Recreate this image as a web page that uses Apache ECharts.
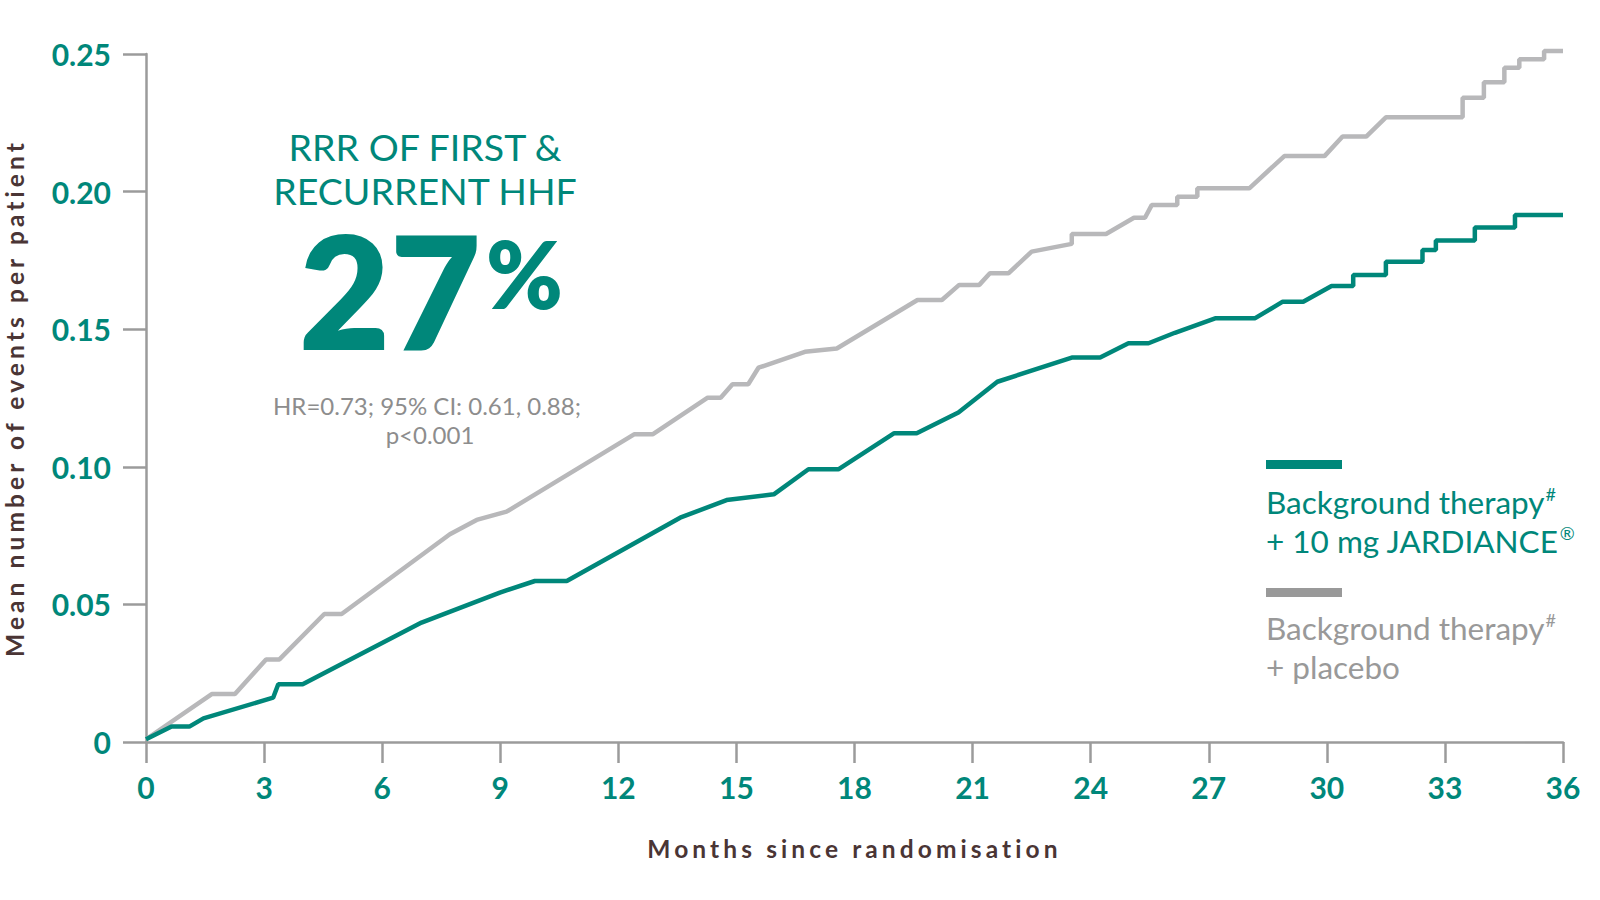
<!DOCTYPE html>
<html>
<head>
<meta charset="utf-8">
<title>Mean number of events per patient</title>
<script src="https://cdn.jsdelivr.net/npm/echarts@6/dist/echarts.min.js"></script>
<style>
  html, body { margin: 0; padding: 0; background: #fff; }
  #chart { width: 1600px; height: 900px; }
  /* the axis titles are tracked out in the original */
  #chart svg text[style*="24.5px"] { letter-spacing: 4.1px; }
</style>
</head>
<body>
<div id="chart"></div>
<script>
/* values */
var jardianceMonths = [0, 0.65, 1.10, 1.46, 3.23, 3.36, 3.98, 7.0, 8.99, 9.88, 10.69, 13.57, 14.75, 15.95, 16.83, 17.59,
    19.01, 19.58, 20.64, 21.63, 23.52, 24.24, 24.96, 25.47, 26.14, 27.18, 28.18, 28.88, 29.40, 30.12, 30.67, 30.67,
    31.50, 31.50, 32.43, 32.43, 32.77, 32.77, 33.76, 33.76, 34.78, 34.78, 36];
var jardianceValues = [0.001, 0.0056, 0.0056, 0.0086, 0.0161, 0.021, 0.021, 0.0434, 0.0543, 0.0585, 0.0585, 0.0815, 0.0879, 0.090, 0.0991, 0.0991,
    0.1122, 0.1122, 0.1197, 0.1309, 0.1397, 0.1397, 0.1449, 0.1449, 0.1487, 0.154, 0.154, 0.160, 0.160, 0.1657, 0.1657, 0.1697,
    0.1697, 0.1745, 0.1745, 0.1788, 0.1788, 0.1822, 0.1822, 0.187, 0.187, 0.1915, 0.1915];

var placeboMonths = [0, 1.67, 2.26, 3.05, 3.39, 4.53, 4.97, 7.72, 8.40, 9.16, 12.40, 12.87, 14.27, 14.60, 14.90, 15.30,
    15.56, 16.74, 17.55, 19.60, 20.22, 20.66, 21.17, 21.44, 21.91, 22.50, 23.52, 23.52, 24.39, 25.10, 25.38, 25.55,
    26.20, 26.20, 26.71, 26.71, 28.03, 28.92, 29.94, 30.40, 31.00, 31.50, 33.45, 33.45, 33.99, 33.99, 34.51, 34.51,
    34.89, 34.89, 35.52, 35.52, 36];
var placeboValues = [0.001, 0.0174, 0.0174, 0.030, 0.030, 0.0465, 0.0465, 0.0755, 0.0807, 0.0837, 0.1118, 0.1118, 0.1251, 0.1251, 0.130, 0.130,
    0.136, 0.1418, 0.143, 0.1606, 0.1606, 0.1661, 0.1661, 0.1703, 0.1703, 0.1782, 0.181, 0.1846, 0.1846, 0.1905, 0.1905, 0.1951,
    0.1951, 0.1981, 0.1981, 0.2012, 0.2012, 0.2129, 0.2129, 0.22, 0.22, 0.227, 0.227, 0.2341, 0.2341, 0.2397, 0.2397, 0.245,
    0.245, 0.2481, 0.2481, 0.2511, 0.2511];

var teal = '#00877a';
var greyLine = '#b8b8ba';
var greyText = '#999999';
var axisGrey = '#9b9b9b';
var brown = '#4a3535';

function pairs(xs, ys) {
    var out = [];
    for (var i = 0; i < xs.length; i++) out.push([xs[i], ys[i]]);
    return out;
}

var myChart = echarts.init(document.getElementById('chart'), null, { renderer: 'svg' });
var option = {
    backgroundColor: '#fff',
    animation: false,
    grid: {
        left: 146,
        right: 37,
        top: 54,
        bottom: 158,
        outerBoundsMode: 'none'
    },
    xAxis: {
        type: 'value',
        min: 0,
        max: 36,
        interval: 3,
        name: 'Months since randomisation',
        nameLocation: 'middle',
        nameGap: 94,
        nameTextStyle: {
            color: brown,
            fontSize: 24.5,
            fontWeight: 'bold',
            fontFamily: 'Lato'
        },
        axisLine: { lineStyle: { color: axisGrey, width: 2.5 } },
        axisTick: { length: 21, lineStyle: { color: axisGrey, width: 2.5 } },
        axisLabel: {
            color: teal,
            fontSize: 30,
            fontWeight: 'bold',
            fontFamily: 'Lato',
            margin: 30
        },
        splitLine: { show: false }
    },
    yAxis: {
        type: 'value',
        min: 0,
        max: 0.25,
        interval: 0.05,
        name: 'Mean number of events per patient',
        nameLocation: 'middle',
        nameGap: 119,
        nameTextStyle: {
            color: brown,
            fontSize: 24.5,
            fontWeight: 'bold',
            fontFamily: 'Lato'
        },
        axisLine: { show: true, lineStyle: { color: axisGrey, width: 2.5 } },
        axisTick: { show: true, length: 23, lineStyle: { color: axisGrey, width: 2.5 } },
        axisLabel: {
            color: teal,
            fontSize: 30,
            fontWeight: 'bold',
            fontFamily: 'Lato',
            margin: 35,
            formatter: function (v) { return v === 0 ? '0' : v.toFixed(2); }
        },
        splitLine: { show: false }
    },
    series: [{
        name: 'Background therapy + placebo',
        type: 'line',
        data: pairs(placeboMonths, placeboValues),
        showSymbol: false,
        clip: false,
        lineStyle: { color: greyLine, width: 4.5 },
        itemStyle: { color: greyLine }
    }, {
        name: 'Background therapy + 10 mg JARDIANCE',
        type: 'line',
        data: pairs(jardianceMonths, jardianceValues),
        showSymbol: false,
        clip: false,
        lineStyle: { color: teal, width: 4.5 },
        itemStyle: { color: teal }
    }],
    graphic: [
        // headline block
        { type: 'text', x: 425, y: 146, style: { text: 'RRR OF FIRST &', fill: teal, fontSize: 37.5, lineHeight: 38, fontFamily: 'Lato', align: 'center', verticalAlign: 'middle' } },
        { type: 'text', x: 425, y: 190, style: { text: 'RECURRENT HHF', fill: teal, fontSize: 37.5, lineHeight: 38, fontFamily: 'Lato', align: 'center', verticalAlign: 'middle' } },
        { type: 'text', x: 481, y: 289, style: { text: '27', fill: teal, fontSize: 157, lineHeight: 118, fontWeight: 800, fontFamily: 'Lato', align: 'right', verticalAlign: 'middle' } },
        { type: 'text', x: 486, y: 273, style: { text: '%', fill: teal, fontSize: 92, lineHeight: 70, fontWeight: 800, fontFamily: 'Lato', align: 'left', verticalAlign: 'middle' } },
        { type: 'text', x: 427, y: 405, style: { text: 'HR=0.73; 95% CI: 0.61, 0.88;', fill: '#8d8d8d', fontSize: 24, fontFamily: 'Lato', align: 'center', verticalAlign: 'middle' } },
        { type: 'text', x: 430, y: 434, style: { text: 'p<0.001', fill: '#8d8d8d', fontSize: 24, fontFamily: 'Lato', align: 'center', verticalAlign: 'middle' } },
        // legend
        { type: 'rect', shape: { x: 1266, y: 460, width: 76, height: 9 }, style: { fill: teal } },
        {
            type: 'text', x: 1266, y: 482,
            style: {
                text: '{a|Background therapy}{s|#}\n{a|+ 10 mg JARDIANCE}{s|®}',
                fill: teal, fontFamily: 'Lato', align: 'left', verticalAlign: 'top',
                rich: {
                    a: { fontSize: 31.5, lineHeight: 39, fontFamily: 'Lato', fill: teal },
                    s: { fontSize: 18, lineHeight: 39, fontFamily: 'Lato', fill: teal, verticalAlign: 'top', padding: [3, 0, 9, 1] }
                }
            }
        },
        { type: 'rect', shape: { x: 1266, y: 588, width: 76, height: 9 }, style: { fill: greyText } },
        {
            type: 'text', x: 1266, y: 608,
            style: {
                text: '{a|Background therapy}{s|#}\n{a|+ placebo}',
                fill: greyText, fontFamily: 'Lato', align: 'left', verticalAlign: 'top',
                rich: {
                    a: { fontSize: 31.5, lineHeight: 39, fontFamily: 'Lato', fill: greyText },
                    s: { fontSize: 18, lineHeight: 39, fontFamily: 'Lato', fill: greyText, verticalAlign: 'top', padding: [3, 0, 9, 1] }
                }
            }
        }
    ]
};
myChart.setOption(option);
</script>
</body>
</html>
